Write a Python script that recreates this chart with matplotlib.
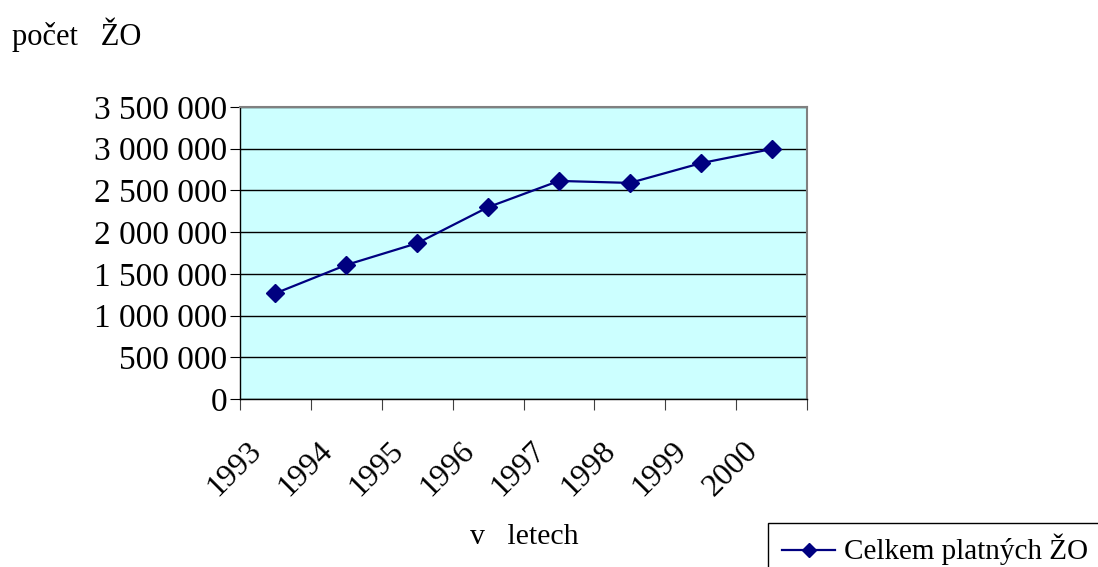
import matplotlib.pyplot as plt
from matplotlib.ticker import FuncFormatter
from matplotlib.patches import Rectangle
from matplotlib.lines import Line2D
import matplotlib.transforms as mtransforms

years = ['1993', '1994', '1995', '1996', '1997', '1998', '1999', '2000']
counts = [1267000, 1607000, 1867000, 2299000, 2614000, 2590000, 2826000, 2996000]

plt.rcParams['font.family'] = ['Liberation Serif', 'DejaVu Serif']

W, H = 1098, 567
fig = plt.figure(figsize=(W / 100, H / 100), dpi=100)
ax = fig.add_axes([240 / W, 1 - 399 / H, (807 - 240) / W, (399 - 107) / H])
ax.set_facecolor('#CCFFFF')

x = list(range(len(years)))
ax.plot(x, counts, color='#000080', lw=1.6, marker='D', ms=9.5)

ax.set_xlim(-0.5, len(years) - 0.5)
ax.set_ylim(0, 3500000)
ax.set_yticks(range(0, 3500001, 500000))
ax.yaxis.set_major_formatter(FuncFormatter(lambda v, p: f'{int(v):,}'.replace(',', ' ')))
ax.grid(axis='y', color='black', lw=1)
ax.set_axisbelow(True)

ax.set_xticks([i - 0.5 for i in range(len(years) + 1)])
ax.set_xticklabels([])
ax.set_xticks(x, minor=True)
ax.set_xticklabels(years, minor=True, rotation=45, ha='right', va='top', fontsize=23)
ax.tick_params(axis='x', which='minor', length=0, pad=27)
ax.tick_params(axis='x', which='major', length=8, direction='out', color='#404040')
ax.tick_params(axis='y', length=7, direction='out', labelsize=24, pad=2)
shift = mtransforms.ScaledTranslation(-8 / 100, 0, fig.dpi_scale_trans)
for lab in ax.get_xticklabels(minor=True):
    lab.set_transform(lab.get_transform() + shift)

for s in ['top', 'right']:
    ax.spines[s].set_color('#808080')
    ax.spines[s].set_linewidth(1.5)
for s in ['left', 'bottom']:
    ax.spines[s].set_color('black')
    ax.spines[s].set_linewidth(1)

fig.text(12 / W, 1 - 35 / H, 'počet   ŽO', fontsize=22, ha='left', va='center')
fig.text(524 / W, 1 - 537 / H, 'v   letech', fontsize=21.5, ha='center', va='center')

# legend box, clipped by the image edge like in the original
fig.patches.append(Rectangle((768 / W, 1 - 600 / H), 400 / W, (600 - 523) / H,
                             transform=fig.transFigure, facecolor='white',
                             edgecolor='black', lw=1))
fig.lines.append(Line2D([782 / W, 835 / W], [1 - 550 / H, 1 - 550 / H],
                        transform=fig.transFigure, color='#000080', lw=1.6))
fig.lines.append(Line2D([808.5 / W], [1 - 550 / H], transform=fig.transFigure,
                        color='#000080', marker='D', ms=7, lw=0))
fig.text(844 / W, 1 - 549 / H, 'Celkem platných ŽO', fontsize=21,
         ha='left', va='center')

fig.savefig('out.png', dpi=100)
